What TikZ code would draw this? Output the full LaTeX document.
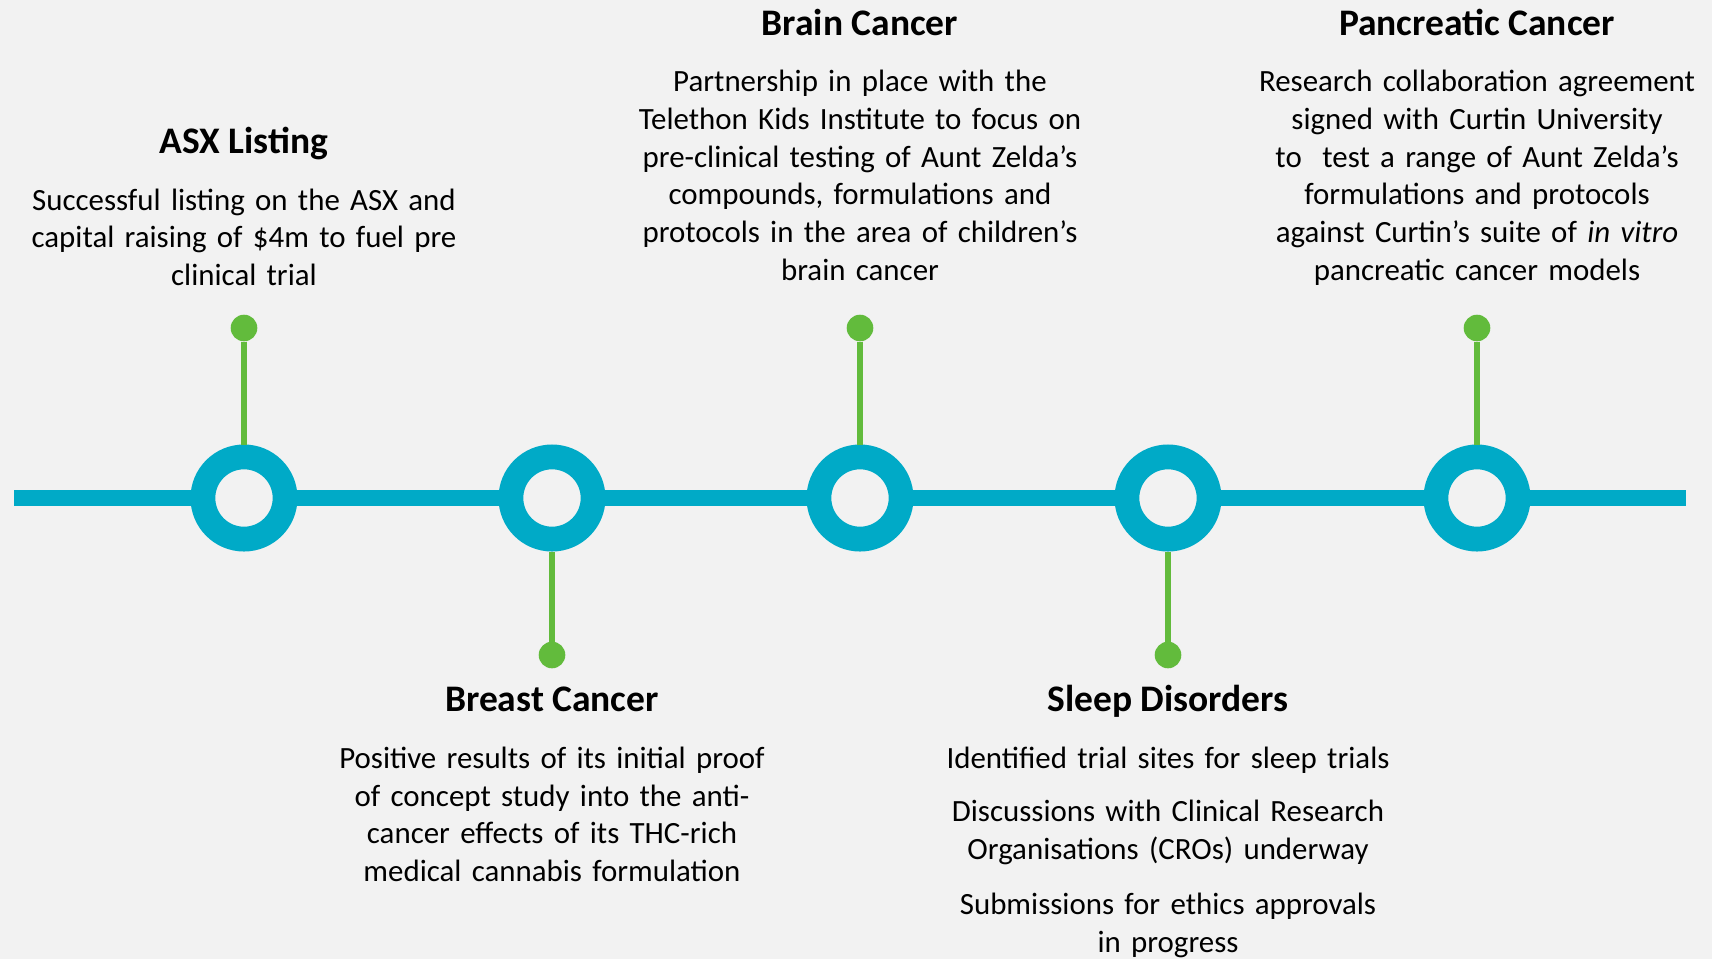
\documentclass[tikz,border=0pt]{standalone}
\usepackage{fontspec}
\setmainfont{Carlito}
\definecolor{bgc}{RGB}{242,242,242}
\definecolor{tlblue}{RGB}{0,170,199}
\definecolor{tlgreen}{RGB}{98,187,60}
\begin{document}
\begin{tikzpicture}[x=1pt,y=-1pt,
 ring/.style={circle, draw=tlblue, fill=bgc, line width=24.8pt, minimum size=82.2pt, inner sep=0pt},
 gdot/.style={circle, fill=tlgreen, minimum size=26.6pt, inner sep=0pt},
 stem/.style={draw=tlgreen, line width=5.3pt},
 axis/.style={draw=tlblue, line width=16pt},
 ttl/.style={anchor=base, font=\bfseries\fontsize{37.5}{44}\selectfont, inner sep=0pt},
 bodytxt/.style={anchor=base, text width=560pt, align=center, font=\fontsize{30.9}{37.7}\selectfont, inner sep=0pt}]
\fill[bgc] (0,0) rectangle (1712,959);
\useasboundingbox (0,0) rectangle (1712,959);
\coordinate (L) at (14,498);
\coordinate (R) at (1686,498);
\draw[axis] (L) -- (R);
\node[ring] (r1) at (244,498) {};
\node[ring] (r2) at (552,498) {};
\node[ring] (r3) at (860,498) {};
\node[ring] (r4) at (1168,498) {};
\node[ring] (r5) at (1477,498) {};
\node[gdot] (d1) at (244,328) {};
\node[gdot] (d2) at (552,655) {};
\node[gdot] (d3) at (860,328) {};
\node[gdot] (d4) at (1168,655) {};
\node[gdot] (d5) at (1477,328) {};
\draw[stem] (d1) -- (r1);
\draw[stem] (d2) -- (r2);
\draw[stem] (d3) -- (r3);
\draw[stem] (d4) -- (r4);
\draw[stem] (d5) -- (r5);
% titles
\node[ttl] (t1) at (244,153.3) {ASX Listing};
\node[ttl] (t2) at (552,711.7) {Breast Cancer};
\node[ttl] (t3) at (860,35.7) {Brain Cancer};
\node[ttl] (t4) at (1168,711.7) {Sleep Disorders};
\node[ttl] (t5) at (1477,35.7) {Pancreatic Cancer};
% bodies
\node[bodytxt] (b1) at (244,210) {Successful listing on the ASX and\\ capital raising of \$4m to fuel pre\\ clinical trial};
\node[bodytxt] (b2) at (552,768.3) {Positive results of its initial proof\\ of concept study into the anti-\\ cancer effects of its THC-rich\\ medical cannabis formulation};
\node[bodytxt] (b3) at (860,91.7) {Partnership in place with the\\ Telethon Kids Institute to focus on\\ pre-clinical testing of Aunt Zelda’s\\ compounds, formulations and\\ protocols in the area of children’s\\ brain cancer};
\node[bodytxt] (b4) at (1168,768.3) {Identified trial sites for sleep trials\\[15.7pt] Discussions with Clinical Research\\ Organisations (CROs) underway\\[17.3pt] Submissions for ethics approvals\\ in progress};
\node[bodytxt] (b5) at (1477,91.7) {Research collaboration agreement\\ signed with Curtin University\\ to\ \ test a range of Aunt Zelda’s\\ formulations and protocols\\ against Curtin’s suite of \textit{in vitro}\\ pancreatic cancer models};
\end{tikzpicture}
\end{document}
